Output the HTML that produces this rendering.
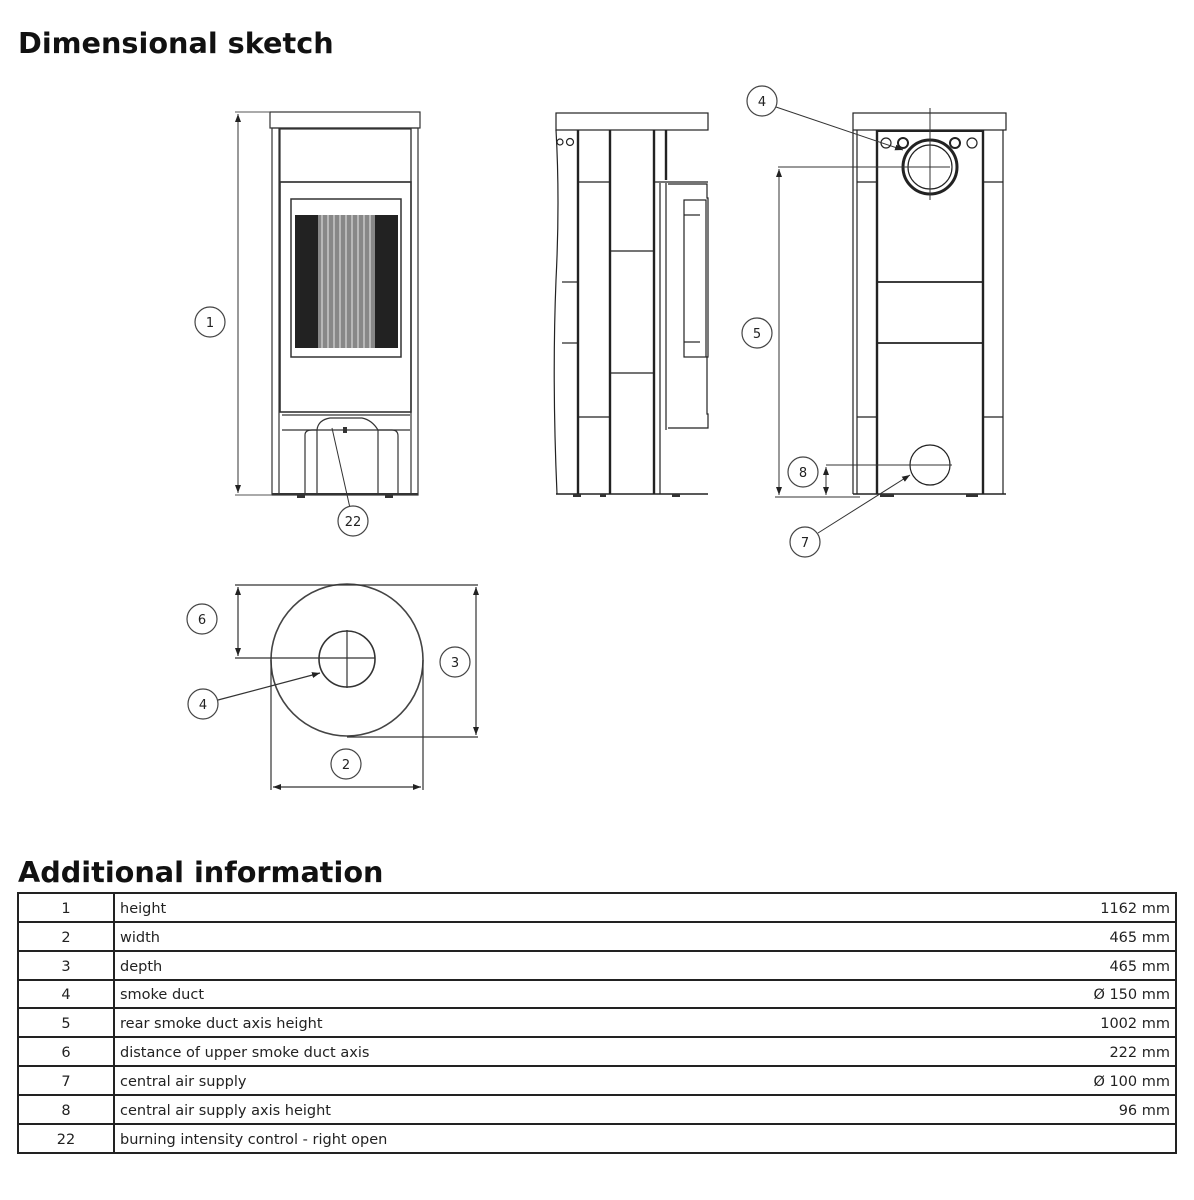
<!DOCTYPE html>
<html><head><meta charset="utf-8"><style>
html,body{margin:0;padding:0;background:#fff;}
svg{display:block;}
text{font-family:"DejaVu Sans","Liberation Sans",sans-serif;}
</style></head><body>
<svg width="1194" height="1200" viewBox="0 0 1194 1200" xmlns="http://www.w3.org/2000/svg">
<defs>
<marker id="a" markerWidth="8" markerHeight="6" refX="8" refY="3" orient="auto-start-reverse" markerUnits="userSpaceOnUse"><path d="M0,0 L8,3 L0,6 z" fill="#222"/></marker>
</defs>
<text x="18" y="53" font-size="28.7" font-weight="bold" fill="#111">Dimensional sketch</text>

<!-- FRONT VIEW -->
<g fill="none" stroke="#333" stroke-width="1.2">
<rect x="270" y="112" width="150" height="16"/>
<rect x="272" y="128" width="146" height="367"/>
<line x1="279" y1="128" x2="279" y2="495"/><line x1="411" y1="128" x2="411" y2="495"/>
<rect x="280" y="129" width="131" height="53"/>
<rect x="280" y="182" width="131" height="230" stroke-width="1.6"/>
<rect x="291" y="199" width="110" height="158" stroke-width="1.5"/>
<line x1="282" y1="415" x2="410" y2="415"/><line x1="282" y1="430" x2="410" y2="430"/>
<path d="M305,495 V435 Q305,430 312,430 H317 Q318,420 330,418 H362 Q372,420 378,430 H392 Q398,430 398,436 V495"/>
<line x1="317" y1="430" x2="317" y2="495"/><line x1="378" y1="430" x2="378" y2="495"/>
<line x1="272" y1="494" x2="418" y2="494" stroke-width="2"/>
</g>
<rect x="295" y="215" width="103" height="133" fill="#222"/>
<rect x="318" y="215" width="57" height="133" fill="#888"/>
<g stroke="#fff" stroke-width="0.8">
<line x1="322" y1="215" x2="322" y2="348"/><line x1="328" y1="215" x2="328" y2="348"/><line x1="334" y1="215" x2="334" y2="348"/><line x1="340" y1="215" x2="340" y2="348"/><line x1="346" y1="215" x2="346" y2="348"/><line x1="352" y1="215" x2="352" y2="348"/><line x1="358" y1="215" x2="358" y2="348"/><line x1="364" y1="215" x2="364" y2="348"/><line x1="370" y1="215" x2="370" y2="348"/>
</g>
<g fill="#333"><rect x="297" y="494" width="8" height="4"/><rect x="385" y="494" width="8" height="4"/><rect x="343" y="427" width="4" height="6"/></g>
<line x1="235" y1="112" x2="270" y2="112" stroke="#555"/><line x1="235" y1="495" x2="272" y2="495" stroke="#555"/>
<line x1="238" y1="114" x2="238" y2="493" stroke="#333" marker-start="url(#a)" marker-end="url(#a)"/>
<line x1="332" y1="428" x2="350" y2="508" stroke="#333"/>

<!-- SIDE VIEW -->
<g fill="none" stroke="#222" stroke-width="1.2">
<rect x="556" y="113" width="152" height="17"/>
<path d="M556,130 Q560,200 556,280 Q552,380 557,494"/>
<line x1="556" y1="494" x2="708" y2="494" stroke-width="1.6"/>
<line x1="578" y1="130" x2="578" y2="494" stroke-width="2.4"/>
<line x1="610" y1="130" x2="610" y2="494" stroke-width="2.4"/>
<line x1="654" y1="130" x2="654" y2="494" stroke-width="2.4"/>
<line x1="666" y1="130" x2="666" y2="180" stroke-width="2.4"/>
<line x1="660" y1="183" x2="660" y2="494"/>
<line x1="666" y1="183" x2="666" y2="430"/>
<line x1="578" y1="182" x2="610" y2="182"/><line x1="578" y1="417" x2="610" y2="417"/>
<line x1="610" y1="251" x2="654" y2="251"/><line x1="610" y1="373" x2="654" y2="373"/>
<line x1="562" y1="282" x2="578" y2="282"/><line x1="562" y1="343" x2="578" y2="343"/>
<line x1="654" y1="182" x2="708" y2="182"/>
<path d="M668,184 H707 V198 H708 V357 H707 V414 H708 V428 H668"/>
<rect x="684" y="200" width="22" height="157"/>
<line x1="684" y1="215" x2="700" y2="215"/><line x1="684" y1="342" x2="700" y2="342"/>
<circle cx="560" cy="142" r="3"/><circle cx="570" cy="142" r="3.5"/>
</g>
<g fill="#333"><rect x="573" y="494" width="8" height="3"/><rect x="600" y="494" width="6" height="3"/><rect x="672" y="494" width="8" height="3"/></g>

<!-- REAR VIEW -->
<g fill="none" stroke="#222" stroke-width="1.2">
<rect x="853" y="113" width="153" height="17"/>
<line x1="853" y1="130" x2="853" y2="494"/><line x1="1003" y1="130" x2="1003" y2="494"/>
<line x1="857" y1="130" x2="857" y2="494"/>
<line x1="877" y1="130" x2="877" y2="494" stroke-width="2.4"/>
<line x1="983" y1="130" x2="983" y2="494" stroke-width="2.4"/>
<line x1="877" y1="131" x2="983" y2="131" stroke-width="2"/>
<line x1="877" y1="282" x2="983" y2="282" stroke-width="1.8"/>
<line x1="877" y1="343" x2="983" y2="343" stroke-width="1.8"/>
<line x1="857" y1="182" x2="877" y2="182"/><line x1="983" y1="182" x2="1003" y2="182"/>
<line x1="857" y1="417" x2="877" y2="417"/><line x1="983" y1="417" x2="1003" y2="417"/>
<line x1="853" y1="494" x2="1006" y2="494" stroke-width="1.6"/>
<circle cx="930" cy="167" r="27" stroke-width="3"/>
<circle cx="930" cy="167" r="22"/>
<circle cx="886" cy="143" r="5"/><circle cx="903" cy="143" r="5" stroke-width="2"/><circle cx="955" cy="143" r="5" stroke-width="2"/><circle cx="972" cy="143" r="5"/>
<circle cx="930" cy="465" r="20"/>
</g>
<g stroke="#333" fill="none">
<line x1="930" y1="108" x2="930" y2="200"/>
<line x1="778" y1="167" x2="950" y2="167"/>
<line x1="779" y1="169" x2="779" y2="495" marker-start="url(#a)" marker-end="url(#a)"/>
<line x1="775" y1="497" x2="860" y2="497"/>
<line x1="826" y1="465" x2="952" y2="465"/>
<line x1="826" y1="467" x2="826" y2="495" marker-start="url(#a)" marker-end="url(#a)"/>
<line x1="776" y1="107" x2="903" y2="150" marker-end="url(#a)"/>
<line x1="818" y1="533" x2="910" y2="475" marker-end="url(#a)"/>
</g>
<g fill="#333"><rect x="880" y="494" width="14" height="3"/><rect x="966" y="494" width="12" height="3"/></g>

<!-- TOP VIEW -->
<g fill="none" stroke="#333" stroke-width="1.2">
<circle cx="347" cy="660" r="76" stroke-width="1.6" stroke="#444"/>
<circle cx="347" cy="659" r="28" stroke-width="1.6"/>
<line x1="347" y1="630" x2="347" y2="688"/>
<line x1="235" y1="658" x2="375" y2="658"/>
<line x1="235" y1="585" x2="478" y2="585"/>
<line x1="347" y1="737" x2="478" y2="737"/>
<line x1="238" y1="587" x2="238" y2="656" marker-start="url(#a)" marker-end="url(#a)"/>
<line x1="476" y1="587" x2="476" y2="735" marker-start="url(#a)" marker-end="url(#a)"/>
<line x1="271" y1="660" x2="271" y2="790"/><line x1="423" y1="660" x2="423" y2="790"/>
<line x1="273" y1="787" x2="421" y2="787" marker-start="url(#a)" marker-end="url(#a)"/>
<line x1="218" y1="700" x2="320" y2="673" marker-end="url(#a)"/>
</g>

<g fill="#fff" stroke="#444" stroke-width="1.2">
<circle cx="210" cy="322" r="15"/><circle cx="353" cy="521" r="15"/>
<circle cx="762" cy="101" r="15"/><circle cx="757" cy="333" r="15"/>
<circle cx="803" cy="472" r="15"/><circle cx="805" cy="542" r="15"/>
<circle cx="202" cy="619" r="15"/><circle cx="203" cy="704" r="15"/>
<circle cx="455" cy="662" r="15"/><circle cx="346" cy="764" r="15"/>
</g>
<g font-size="13" text-anchor="middle" fill="#222">
<text x="210" y="327">1</text><text x="353" y="526">22</text>
<text x="762" y="106">4</text><text x="757" y="338">5</text>
<text x="803" y="477">8</text><text x="805" y="547">7</text>
<text x="202" y="624">6</text><text x="203" y="709">4</text>
<text x="455" y="667">3</text><text x="346" y="769">2</text>
</g>

<text x="18" y="882" font-size="28.7" font-weight="bold" fill="#111">Additional information</text>
<g stroke="#222" stroke-width="2" fill="none">
<rect x="18" y="893" width="1158" height="260"/>
<line x1="114" y1="893" x2="114" y2="1153"/>
<line x1="18" y1="922" x2="1176" y2="922"/><line x1="18" y1="951" x2="1176" y2="951"/>
<line x1="18" y1="980" x2="1176" y2="980"/><line x1="18" y1="1008" x2="1176" y2="1008"/>
<line x1="18" y1="1037" x2="1176" y2="1037"/><line x1="18" y1="1066" x2="1176" y2="1066"/>
<line x1="18" y1="1095" x2="1176" y2="1095"/><line x1="18" y1="1124" x2="1176" y2="1124"/>
</g>
<g font-size="14.5" fill="#222">
<g text-anchor="middle">
<text x="66" y="913">1</text><text x="66" y="942">2</text><text x="66" y="971">3</text><text x="66" y="999">4</text><text x="66" y="1028">5</text><text x="66" y="1057">6</text><text x="66" y="1086">7</text><text x="66" y="1115">8</text><text x="66" y="1144">22</text>
</g>
<text x="120" y="913">height</text><text x="120" y="942">width</text><text x="120" y="971">depth</text><text x="120" y="999">smoke duct</text><text x="120" y="1028">rear smoke duct axis height</text><text x="120" y="1057">distance of upper smoke duct axis</text><text x="120" y="1086">central air supply</text><text x="120" y="1115">central air supply axis height</text><text x="120" y="1144">burning intensity control - right open</text>
<g text-anchor="end">
<text x="1170" y="913">1162 mm</text><text x="1170" y="942">465 mm</text><text x="1170" y="971">465 mm</text><text x="1170" y="999">Ø 150 mm</text><text x="1170" y="1028">1002 mm</text><text x="1170" y="1057">222 mm</text><text x="1170" y="1086">Ø 100 mm</text><text x="1170" y="1115">96 mm</text>
</g>
</g>
</svg>
</body></html>
